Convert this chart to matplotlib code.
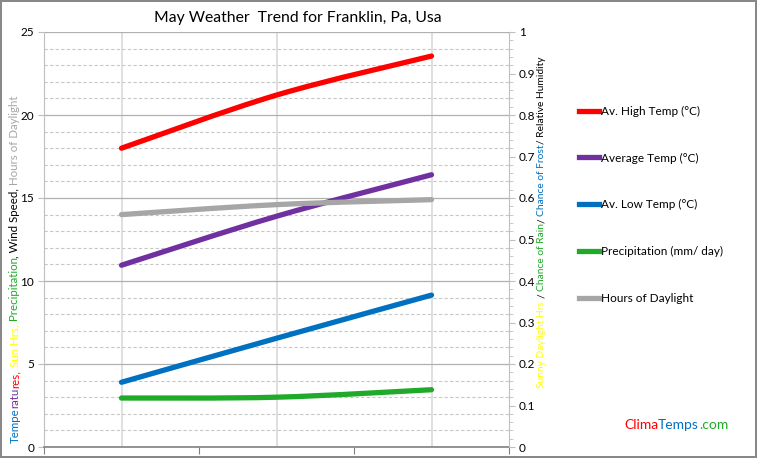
import numpy as np
import matplotlib.pyplot as plt
from matplotlib.path import Path
from matplotlib.patches import PathPatch
from matplotlib.lines import Line2D
from matplotlib.ticker import MultipleLocator, FixedLocator

plt.rcParams['font.family'] = ['Lato', 'DejaVu Sans']

# data (three sample points across May)
x_pos = [0.5, 1.5, 2.5]
high_temp = [18.0, 21.2, 23.55]
avg_temp = [10.95, 13.9, 16.4]
low_temp = [3.9, 6.55, 9.15]
precip = [2.95, 3.0, 3.45]
daylight = [14.0, 14.6, 14.9]

series = [
    ("Av. High Temp (°C)", high_temp, "#ff0000"),
    ("Average Temp (°C)", avg_temp, "#7030a0"),
    ("Av. Low Temp (°C)", low_temp, "#0070c0"),
    ("Precipitation (mm/ day)", precip, "#1faa2a"),
    ("Hours of Daylight", daylight, "#a6a6a6"),
]


def smooth_path(xs, ys):
    # excel-style smoothed line: cubic bezier through the points
    pts = np.column_stack([xs, ys])
    verts = [pts[0]]
    codes = [Path.MOVETO]
    n = len(pts)
    for i in range(n - 1):
        p0 = pts[i - 1] if i > 0 else pts[i]
        p1, p2 = pts[i], pts[i + 1]
        p3 = pts[i + 2] if i + 2 < n else pts[i + 1]
        c1 = p1 + (p2 - p0) / 6
        c2 = p2 - (p3 - p1) / 6
        verts += [c1, c2, p2]
        codes += [Path.CURVE4] * 3
    return Path(verts, codes)


fig = plt.figure(figsize=(7.57, 4.58), dpi=100)
fig.patch.set_edgecolor('#888888')
fig.patch.set_linewidth(1.5)
ax = fig.add_axes([44 / 757, 1 - 447 / 458, 465 / 757, 415 / 458])

ax.set_xlim(0, 3)
ax.set_ylim(0, 25)

# grid
ax.yaxis.set_major_locator(MultipleLocator(5))
ax.yaxis.set_minor_locator(MultipleLocator(1))
ax.grid(axis='y', which='major', color='#b0b0b0', lw=0.9)
ax.grid(axis='y', which='minor', color='#c8c8c8', lw=0.8, ls=(0, (3, 2)))
for xv in x_pos:
    ax.axvline(xv, color='#d9d9d9', lw=1.2, zorder=0.5)
ax.set_axisbelow(True)

ax.xaxis.set_major_locator(FixedLocator([0, 1, 2, 3]))
ax.set_xticklabels([])
ax.tick_params(axis='x', length=5, color='#808080', direction='out')
ax.tick_params(axis='y', which='major', length=4, color='#bfbfbf', labelsize=8.5, pad=3)
ax.tick_params(axis='y', which='minor', length=0)

for s in ['top', 'right']:
    ax.spines[s].set_visible(False)
ax.spines['left'].set_color('#bfbfbf')
ax.spines['bottom'].set_color('#808080')
ax.spines['bottom'].set_linewidth(1.2)

# series
handles = []
for name, vals, col in series:
    patch = PathPatch(smooth_path(x_pos, vals), facecolor='none', edgecolor=col,
                      lw=3.8, capstyle='round', transform=ax.transData, zorder=3)
    ax.add_patch(patch)
    handles.append(Line2D([], [], color=col, lw=3.8, label=name))

# right axis
ax2 = ax.twinx()
ax2.set_ylim(0, 1)
ax2.yaxis.set_minor_locator(MultipleLocator(0.02))
ax2.set_yticks(np.arange(0, 1.01, 0.1))
ax2.set_yticklabels(['0'] + ['%.1f' % v for v in np.arange(0.1, 0.95, 0.1)] + ['1'])
ax2.tick_params(axis='y', which='major', length=4, color='#bfbfbf', labelsize=8.5, pad=3)
ax2.tick_params(axis='y', which='minor', length=3, color='#bfbfbf')
for s in ['top', 'left', 'bottom']:
    ax2.spines[s].set_visible(False)
ax2.spines['right'].set_color('#bfbfbf')

fig.text(298 / 757, 1 - 18 / 458, "May Weather  Trend for Franklin, Pa, Usa",
         ha='center', va='center', fontsize=11.3)

leg = fig.legend(handles=handles, loc='upper left', bbox_to_anchor=(574 / 757, 1 - 101 / 458),
                 frameon=False, fontsize=8.5, handlelength=1.7, handletextpad=0.15,
                 labelspacing=3.03, borderaxespad=0)

fig.canvas.draw()
renderer = fig.canvas.get_renderer()


def colored_vertical(x_px, y_px, parts, size):
    y = y_px
    for txt, col in parts:
        t = fig.text(x_px / 757, 1 - y / 458, txt, color=col, fontsize=size,
                     rotation=90, ha='left', va='center', rotation_mode='anchor')
        bb = t.get_window_extent(renderer)
        y -= bb.height


def colored_horizontal(x_px, y_px, parts, size):
    x = x_px
    for txt, col in parts:
        t = fig.text(x / 757, 1 - y_px / 458, txt, color=col, fontsize=size,
                     ha='left', va='center')
        bb = t.get_window_extent(renderer)
        x += bb.width


left_label = [("Tempe", "#0070c0"), ("ratu", "#7030a0"), ("res,", "#ff0000"),
              ("\u00a0Sun Hrs,", "#ffff00"), ("\u00a0Precipitation", "#1faa2a"),
              (",\u00a0Wind Speed,", "#000000"), ("\u00a0Hours of Daylight", "#a6a6a6")]
right_label = [("Sunny Daylight Hrs\u00a0", "#ffff00"), ("/\u00a0", "#000000"),
               ("Chance of Rain", "#1faa2a"), ("/\u00a0", "#000000"),
               ("Chance of Frost", "#0070c0"), ("/\u00a0Relative Humidity", "#000000")]

colored_vertical(15, 443, left_label, 8.3)
colored_vertical(542, 388, right_label, 7.4)
colored_horizontal(624, 425, [("Clima", "#ff0000"), ("Temps", "#0070c0"), (".com", "#1faa2a")], 10)

fig.savefig("out.png", dpi=100)
